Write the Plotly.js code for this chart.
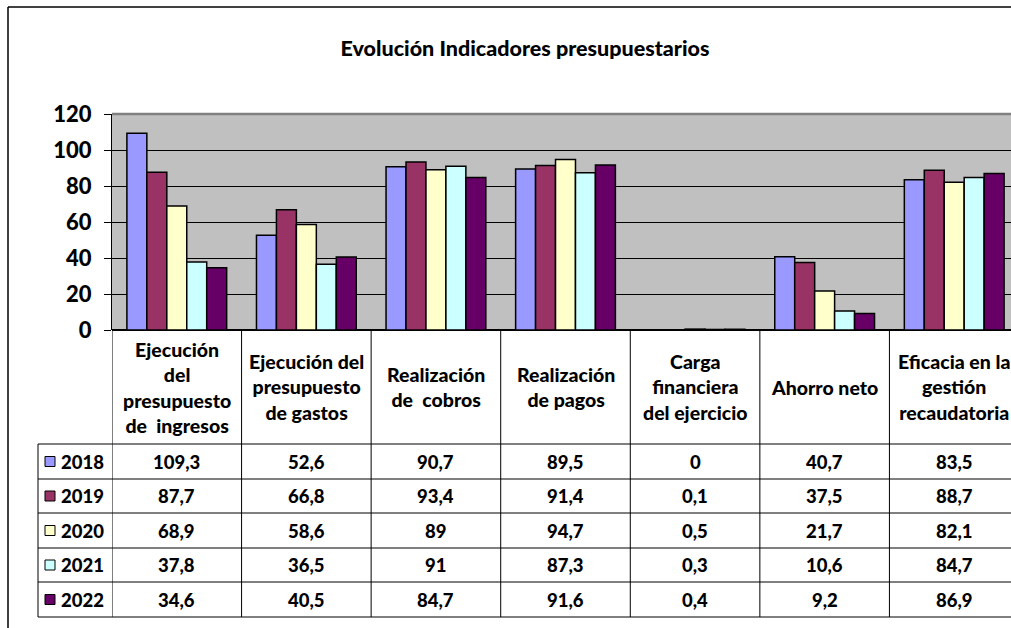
<!DOCTYPE html>
<html>
<head>
<meta charset="utf-8">
<script src="https://cdn.plot.ly/plotly-3.0.1.min.js"></script>
<style>
html,body{margin:0;padding:0;overflow:hidden;background:#fff;}
#chart{width:1030px;height:628px;}
</style>
</head>
<body>
<div id="chart"></div>
<script>
// ---- data ----
const categories = [
  "Ejecución<br>del<br>presupuesto<br>de  ingresos",
  "Ejecución del<br>presupuesto<br>de gastos",
  "Realización<br>de  cobros",
  "Realización<br>de pagos",
  "Carga<br>financiera<br>del ejercicio",
  "Ahorro neto",
  "Eficacia en la<br>gestión<br>recaudatoria"
];
const years = ["2018", "2019", "2020", "2021", "2022"];
const v2018 = [109.3, 52.6, 90.7, 89.5, 0, 40.7, 83.5];
const v2019 = [87.7, 66.8, 93.4, 91.4, 0.1, 37.5, 88.7];
const v2020 = [68.9, 58.6, 89, 94.7, 0.5, 21.7, 82.1];
const v2021 = [37.8, 36.5, 91, 87.3, 0.3, 10.6, 84.7];
const v2022 = [34.6, 40.5, 84.7, 91.6, 0.4, 9.2, 86.9];
const series = [v2018, v2019, v2020, v2021, v2022];
const colors = ["#9999FF", "#993366", "#FFFFCC", "#CCFFFF", "#660066"];
const yTicks = [0, 20, 40, 60, 80, 100, 120];

// ---- layout geometry ----
const W = 1030, H = 628;
const L = 112, R = 1019, T = 114, B = 330;
const pw = R - L, ph = B - T;
const px = x => (x - L) / pw;
const py = y => (B - y) / ph;
const FONT = "Lato, 'Open Sans', sans-serif";
const WT = 900;

const xIdx = categories.map((c, i) => i);

const traces = series.map((vals, i) => ({
  type: "bar",
  name: years[i],
  x: xIdx,
  y: vals,
  marker: { color: colors[i], line: { color: "#000", width: 1.5 } },
  hoverinfo: "y"
}));

const shapes = [];
const annotations = [];
const rowLines = [444, 479, 513, 548, 582, 617];

// outer chart border
shapes.push({ type: "line", xref: "paper", yref: "paper", x0: px(8), x1: px(W + 5), y0: py(7), y1: py(7), line: { color: "#000", width: 1.5 } });
shapes.push({ type: "line", xref: "paper", yref: "paper", x0: px(8), x1: px(8), y0: py(7), y1: py(H + 5), line: { color: "#000", width: 1.5 } });

// plot-area top border (grey)
shapes.push({ type: "line", xref: "paper", yref: "paper", x0: 0, x1: 1.02, y0: 1, y1: 1, line: { color: "#808080", width: 2.5 } });

// table vertical lines (category boundaries)
for (let k = 0; k <= categories.length; k++) {
  shapes.push({ type: "line", xref: "x", yref: "paper", x0: k - 0.5, x1: k - 0.5, y0: 0, y1: py(rowLines[rowLines.length - 1]), line: { color: "#000", width: 1 } });
}
// legend column left line
shapes.push({ type: "line", xref: "paper", yref: "paper", x0: px(38), x1: px(38), y0: py(rowLines[0]), y1: py(rowLines[rowLines.length - 1]), line: { color: "#000", width: 1 } });
// horizontal row lines
rowLines.forEach(r => {
  shapes.push({ type: "line", xref: "paper", yref: "paper", x0: px(38), x1: px(W + 5), y0: py(r), y1: py(r), line: { color: "#000", width: 1 } });
});

// header labels
categories.forEach((c, i) => {
  annotations.push({
    x: i, xref: "x", y: py(387), yref: "paper", yanchor: "middle", xanchor: "center",
    text: c, showarrow: false, align: "center",
    font: { family: FONT, size: 19.5, color: "#000", weight: WT }
  });
});

// rows
const fmt = v => String(v).replace(".", ",");
series.forEach((vals, r) => {
  const yc = (rowLines[r] + rowLines[r + 1]) / 2;
  // legend key
  shapes.push({ type: "rect", xref: "paper", yref: "paper", x0: px(45), x1: px(55), y0: py(yc - 5), y1: py(yc + 5), fillcolor: colors[r], line: { color: "#000", width: 1 } });
  annotations.push({
    x: px(59), xref: "paper", y: py(yc), yref: "paper", xanchor: "left", yanchor: "middle",
    text: years[r], showarrow: false,
    font: { family: FONT, size: 18.5, color: "#000", weight: WT }
  });
  vals.forEach((v, i) => {
    annotations.push({
      x: i, xref: "x", y: py(yc), yref: "paper", xanchor: "center", yanchor: "middle",
      text: fmt(v), showarrow: false,
      font: { family: FONT, size: 18.5, color: "#000", weight: WT }
    });
  });
});

const layout = {
  width: W, height: H,
  margin: { l: L, r: W - R, t: T, b: H - B, pad: 0 },
  paper_bgcolor: "#fff",
  plot_bgcolor: "#C0C0C0",
  showlegend: false,
  barmode: "group",
  bargap: 0.23,
  bargroupgap: 0,
  title: {
    text: "Evolución Indicadores presupuestarios",
    x: 525 / W, xanchor: "center", xref: "container",
    y: 1 - 48 / H, yanchor: "middle", yref: "container",
    font: { family: FONT, size: 21.5, color: "#000", weight: WT }
  },
  xaxis: {
    range: [-0.5, categories.length - 0.5],
    showticklabels: false, showgrid: false, zeroline: false,
    showline: false, ticks: "", fixedrange: true
  },
  yaxis: {
    range: [0, 120],
    tickvals: yTicks, ticktext: yTicks.map(String),
    showgrid: true, gridcolor: "#000", gridwidth: 1,
    zeroline: true, zerolinecolor: "#000", zerolinewidth: 1.5,
    showline: true, linecolor: "#000", linewidth: 1,
    ticks: "outside", ticklen: 7, tickcolor: "#000", tickwidth: 1,
    ticklabelstandoff: 8,
    tickfont: { family: FONT, size: 22, color: "#000", weight: WT },
    fixedrange: true
  },
  shapes: shapes,
  annotations: annotations
};

Plotly.newPlot("chart", traces, layout, { displayModeBar: false, staticPlot: true });
</script>
</body>
</html>
